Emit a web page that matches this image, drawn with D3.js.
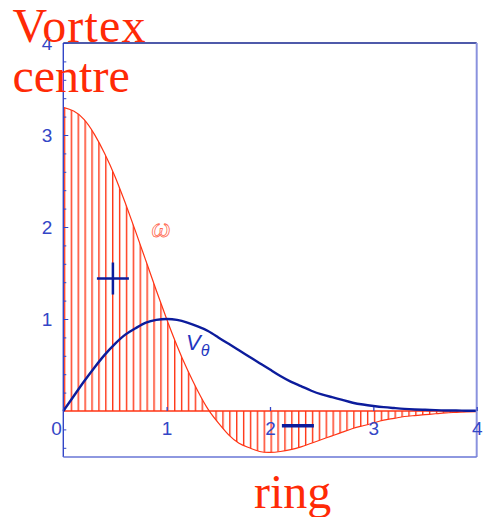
<!DOCTYPE html>
<html>
<head>
<meta charset="utf-8">
<script src="https://cdn.jsdelivr.net/npm/d3@7"></script>
<style>
  html, body { margin: 0; padding: 0; background: #fff; }
  svg { display: block; }
</style>
</head>
<body>
<svg id="canvas"></svg>
<script>
const WIDTH = 483;
const HEIGHT = 517;

// radius r (in core radii), sampled every 0.1
const radius = [
  0, 0.1, 0.2, 0.3, 0.4, 0.5, 0.6, 0.7, 0.8, 0.9,
  1.0, 1.1, 1.2, 1.3, 1.4, 1.5, 1.6, 1.7, 1.8, 1.9,
  2.0, 2.1, 2.2, 2.3, 2.4, 2.5, 2.6, 2.7, 2.8, 2.9,
  3.0, 3.1, 3.2, 3.3, 3.4, 3.5, 3.6, 3.7, 3.8, 3.9, 4.0,
];

// vorticity (red, hatched)
const vorticity = [
  3.30, 3.26, 3.17, 3.01, 2.80, 2.55, 2.26, 1.95, 1.63, 1.31,
  1.00, 0.71, 0.45, 0.22, 0.02, -0.13, -0.26, -0.35, -0.40, -0.44,
  -0.45, -0.44, -0.42, -0.39, -0.35, -0.31, -0.27, -0.23, -0.19, -0.16,
  -0.13, -0.10, -0.08, -0.06, -0.05, -0.04, -0.03, -0.02, -0.015, -0.01, -0.008,
];

// azimuthal velocity (blue)
const velocity = [
  0, 0.16, 0.32, 0.47, 0.61, 0.73, 0.83, 0.90, 0.96, 0.99,
  1.00, 0.99, 0.96, 0.92, 0.87, 0.80, 0.73, 0.66, 0.59, 0.52,
  0.45, 0.38, 0.32, 0.27, 0.22, 0.18, 0.15, 0.12, 0.09, 0.07,
  0.055, 0.042, 0.032, 0.023, 0.017, 0.013, 0.009, 0.006, 0.005, 0.003, 0.002,
];

const xTicks = [1, 2, 3, 4];
const yTicks = [1, 2, 3, 4];
const yMinorTicks = [
  -0.4, -0.2, 0.2, 0.4, 0.6, 0.8, 1.2, 1.4, 1.6, 1.8,
  2.2, 2.4, 2.6, 2.8, 3.2, 3.4, 3.6, 3.8,
];

// sign markers inside the lobes
const signR = [0.48, 2.27];
const signV = [1.44, -0.16];
const signType = ["+", "-"];

const RED = "#ff3414";
const NAVY = "#0c1c9c";
const AXIS_BLUE = "#3346c6";

const canvas = d3.select("#canvas").attr("width", WIDTH).attr("height", HEIGHT);

const xScale = d3.scaleLinear().domain([0, 4]).range([63.3, 476.7]);
const yScale = d3.scaleLinear().domain([-0.5, 4]).range([457, 43]);

const omegaData = radius.map((r, i) => ({ r: r, v: vorticity[i] }));
const velData = radius.map((r, i) => ({ r: r, v: velocity[i] }));

// vertical hatch pattern, 60 lines over the r range
const step = (xScale(4) - xScale(0)) / 60;
const defs = canvas.append("defs");
const pattern = defs
  .append("pattern")
  .attr("id", "hatch")
  .attr("patternUnits", "userSpaceOnUse")
  .attr("x", xScale(0) + 0.5)
  .attr("y", 0)
  .attr("width", step)
  .attr("height", HEIGHT);
pattern
  .append("line")
  .attr("x1", 0.7)
  .attr("x2", 0.7)
  .attr("y1", 0)
  .attr("y2", HEIGHT)
  .attr("stroke", RED)
  .attr("stroke-width", 1.4);

const drawCurves = () => {
  const area = d3
    .area()
    .x((d) => xScale(d.r))
    .y0(yScale(0))
    .y1((d) => yScale(d.v))
    .curve(d3.curveNatural);

  canvas
    .append("path")
    .datum(omegaData)
    .attr("d", area)
    .attr("fill", "url(#hatch)");

  // zero line
  canvas
    .append("line")
    .attr("x1", xScale(0))
    .attr("x2", xScale(4))
    .attr("y1", yScale(0))
    .attr("y2", yScale(0))
    .attr("stroke", RED)
    .attr("stroke-width", 1.6);

  const line = d3
    .line()
    .x((d) => xScale(d.r))
    .y((d) => yScale(d.v))
    .curve(d3.curveNatural);

  canvas
    .append("path")
    .datum(omegaData)
    .attr("d", line)
    .attr("fill", "none")
    .attr("stroke", RED)
    .attr("stroke-width", 1.2);

  canvas
    .append("path")
    .datum(velData)
    .attr("d", line)
    .attr("fill", "none")
    .attr("stroke", NAVY)
    .attr("stroke-width", 2.4)
    .attr("stroke-linejoin", "round");
};

const drawFrame = () => {
  const x0 = xScale(0);
  const x1 = xScale(4);
  const yTop = yScale(4);
  const yBot = yScale(-0.5);

  canvas.append("line")
    .attr("x1", x0).attr("x2", x0).attr("y1", yTop).attr("y2", yBot)
    .attr("stroke", AXIS_BLUE).attr("stroke-width", 1.4);
  canvas.append("line")
    .attr("x1", x0).attr("x2", x1).attr("y1", yTop).attr("y2", yTop)
    .attr("stroke", "#15238e").attr("stroke-width", 1.4);
  canvas.append("line")
    .attr("x1", x1).attr("x2", x1).attr("y1", yTop).attr("y2", yBot)
    .attr("stroke", "#8a92de").attr("stroke-width", 2);
  canvas.append("line")
    .attr("x1", x0).attr("x2", x1).attr("y1", yBot).attr("y2", yBot)
    .attr("stroke", "#6876d6").attr("stroke-width", 1.5);
};

const tickFont = (g) =>
  g.selectAll("text")
    .attr("fill", AXIS_BLUE)
    .style("font-family", "'Liberation Sans', Arial, sans-serif")
    .style("font-size", "19px");

const drawAxes = () => {
  const yMinor = d3.axisLeft(yScale).tickValues(yMinorTicks).tickSize(-3).tickFormat("");
  canvas
    .append("g")
    .attr("transform", `translate(${xScale(0)}, 0)`)
    .call(yMinor)
    .call((g) => g.select(".domain").remove())
    .call((g) => g.selectAll("line").attr("stroke", AXIS_BLUE));

  const yAxis = d3
    .axisLeft(yScale)
    .tickValues(yTicks)
    .tickSize(-5)
    .tickPadding(11)
    .tickFormat(d3.format("d"));
  canvas
    .append("g")
    .attr("id", "y-axis")
    .attr("transform", `translate(${xScale(0)}, 0)`)
    .call(yAxis)
    .call((g) => g.select(".domain").remove())
    .call((g) => g.selectAll("line").attr("stroke", AXIS_BLUE))
    .call(tickFont);

  const xAxis = d3
    .axisBottom(xScale)
    .tickValues(xTicks)
    .tickSize(-4)
    .tickPadding(10.5)
    .tickFormat(d3.format("d"));
  canvas
    .append("g")
    .attr("id", "x-axis")
    .attr("transform", `translate(0, ${yScale(0)})`)
    .call(xAxis)
    .call((g) => g.select(".domain").remove())
    .call((g) => g.selectAll("line").attr("stroke", AXIS_BLUE).attr("stroke-width", 1.3))
    .call(tickFont);

  // shared origin label
  canvas
    .append("text")
    .attr("x", xScale(0) - 1.5)
    .attr("y", yScale(0) + 10.5)
    .attr("dy", "0.71em")
    .attr("text-anchor", "end")
    .attr("fill", AXIS_BLUE)
    .style("font-family", "'Liberation Sans', Arial, sans-serif")
    .style("font-size", "19px")
    .text("0");
};

const drawSigns = () => {
  signType.forEach((s, i) => {
    const cx = xScale(signR[i]);
    const cy = yScale(signV[i]);
    canvas.append("line")
      .attr("x1", cx - 16).attr("x2", cx + 16).attr("y1", cy).attr("y2", cy)
      .attr("stroke", NAVY).attr("stroke-width", s === "+" ? 2.5 : 3.4);
    if (s === "+") {
      canvas.append("line")
        .attr("x1", cx).attr("x2", cx).attr("y1", cy - 16).attr("y2", cy + 16)
        .attr("stroke", NAVY).attr("stroke-width", 2.5);
    }
  });
};

const drawLabels = () => {
  const serif = "'Liberation Serif', 'Times New Roman', serif";

  canvas.append("text")
    .attr("x", 12.5).attr("y", 42)
    .attr("fill", "#ff2a06")
    .style("font-family", serif).style("font-size", "48px")
    .attr("textLength", 133)
    .text("Vortex");
  canvas.append("text")
    .attr("x", 12.5).attr("y", 91.5)
    .attr("fill", "#ff2a06")
    .style("font-family", serif).style("font-size", "48px")
    .text("centre");
  canvas.append("text")
    .attr("x", 254).attr("y", 508)
    .attr("fill", "#ff2a06")
    .style("font-family", serif).style("font-size", "48px")
    .text("ring");

  // omega label
  canvas.append("text")
    .attr("x", 161).attr("y", 236.5)
    .attr("text-anchor", "middle")
    .attr("fill", "#fff")
    .attr("stroke", "#ff6a52")
    .attr("stroke-width", 0.8)
    .style("font-family", serif).style("font-style", "italic").style("font-size", "27px")
    .text("\u03c9");

  // V_theta label
  const vt = canvas.append("text")
    .attr("x", 186).attr("y", 350)
    .attr("fill", "#2336c0")
    .style("font-family", "'Liberation Sans', Arial, sans-serif")
    .style("font-style", "italic");
  vt.append("tspan").style("font-size", "22px").text("V");
  vt.append("tspan").attr("dy", 6).style("font-size", "16px").text("\u03b8");
};

drawCurves();
drawFrame();
drawAxes();
drawSigns();
drawLabels();
</script>
</body>
</html>
